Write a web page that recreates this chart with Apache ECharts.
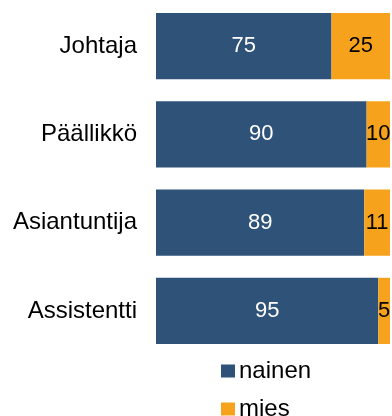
<!DOCTYPE html>
<html>
<head>
<meta charset="utf-8">
<script src="https://cdn.jsdelivr.net/npm/echarts@6/dist/echarts.min.js"></script>
<style>
  html, body { margin: 0; padding: 0; background: #fff; }
  #chart { width: 392px; height: 416px; }
</style>
</head>
<body>
<div id="chart"></div>
<script>
// Gender split (%) by job role
const roles = ['Johtaja', 'Päällikkö', 'Asiantuntija', 'Assistentti'];
const nainen = [75, 90, 89, 95];
const mies = [25, 10, 11, 5];
const seriesNames = ['nainen', 'mies'];

const FONT = '"Liberation Sans", Arial, sans-serif';
const chart = echarts.init(document.getElementById('chart'));

chart.setOption({
  animation: false,
  textStyle: { fontFamily: FONT },
  grid: { left: 156, right: 2, top: 2, bottom: 61 },
  xAxis: { type: 'value', min: 0, max: 100, show: false },
  yAxis: {
    type: 'category',
    data: roles,
    inverse: true,
    axisLine: { show: false },
    axisTick: { show: false },
    axisLabel: { margin: 19, fontSize: 24, color: '#000', fontFamily: FONT }
  },
  legend: {
    orient: 'vertical',
    left: 221,
    top: 359,
    height: 100,
    padding: 0,
    itemWidth: 14,
    itemHeight: 13,
    itemGap: 14,
    icon: 'rect',
    data: seriesNames,
    textStyle: { fontSize: 24, lineHeight: 22, color: '#000', fontFamily: FONT, padding: [0, 0, 0, -1] }
  },
  series: [
    {
      name: seriesNames[0],
      type: 'bar',
      stack: 'total',
      barCategoryGap: '25%',
      data: nainen,
      itemStyle: { color: '#2F5279' },
      label: { show: true, position: 'inside', color: '#fff', fontSize: 22, fontFamily: FONT }
    },
    {
      name: seriesNames[1],
      type: 'bar',
      stack: 'total',
      barCategoryGap: '25%',
      data: mies,
      itemStyle: { color: '#F7A21C' },
      label: { show: true, position: 'inside', color: '#000', fontSize: 22, fontFamily: FONT }
    }
  ]
});
</script>
</body>
</html>
